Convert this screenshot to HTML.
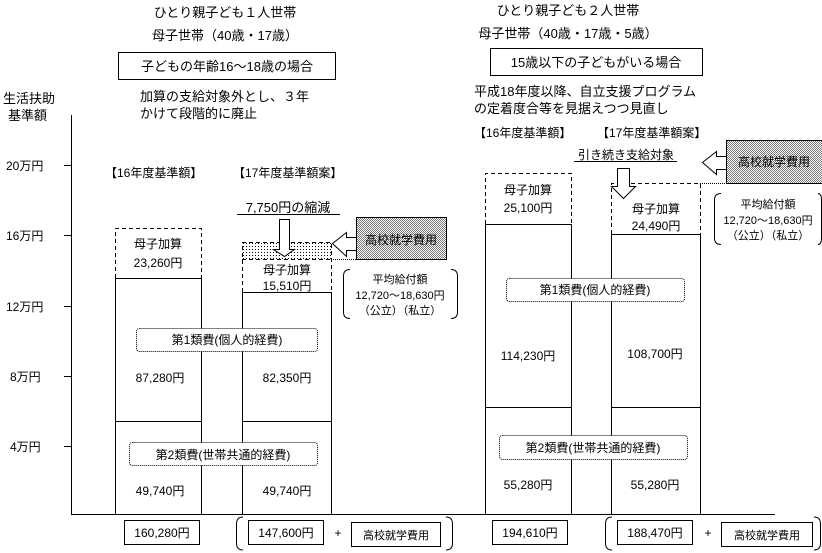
<!DOCTYPE html>
<html><head><meta charset="utf-8"><style>
html,body{margin:0;padding:0;background:#fff;}
svg{display:block;}
text{font-family:"Liberation Sans","Noto Sans CJK JP",sans-serif;fill:#000;}
</style></head><body>
<svg width="822" height="553" viewBox="0 0 822 553" xmlns="http://www.w3.org/2000/svg">
<defs>
<pattern id="dots" width="3" height="3" patternUnits="userSpaceOnUse"><rect width="3" height="3" fill="#fff"/><rect width="1" height="1" fill="#000"/></pattern>
<pattern id="gray" width="2" height="2" patternUnits="userSpaceOnUse"><rect width="2" height="2" fill="#fff"/><rect width="1" height="1" fill="#777"/><rect x="1" y="1" width="1" height="1" fill="#777"/></pattern>
</defs>
<g stroke="#000" stroke-width="1" fill="none">
<line x1="71.5" y1="115" x2="71.5" y2="514"/>
<line x1="71" y1="514.5" x2="775" y2="514.5"/>
<line x1="64" y1="165.5" x2="71" y2="165.5"/>
<line x1="64" y1="235.5" x2="71" y2="235.5"/>
<line x1="64" y1="306.5" x2="71" y2="306.5"/>
<line x1="64" y1="376.5" x2="71" y2="376.5"/>
<line x1="64" y1="446.5" x2="71" y2="446.5"/>
<rect x="115.5" y="278.5" width="86" height="236"/>
<line x1="115" y1="421.5" x2="201" y2="421.5"/>
<rect x="242.5" y="292.5" width="89" height="222"/>
<line x1="242" y1="421.5" x2="331" y2="421.5"/>
<rect x="485.5" y="224.5" width="86" height="290"/>
<line x1="485" y1="407.5" x2="571" y2="407.5"/>
<rect x="611.5" y="234.5" width="89" height="280"/>
<line x1="611" y1="407.5" x2="700" y2="407.5"/>
<g stroke-dasharray="4,3">
<polyline points="115.5,278 115.5,228.5 201.5,228.5 201.5,278"/>
<polyline points="242.5,292 242.5,242.5 331.5,242.5 331.5,292"/>
<line x1="242" y1="259.5" x2="331" y2="259.5"/>
<polyline points="485.5,224 485.5,173.5 571.5,173.5 571.5,224"/>
<polyline points="611.5,234 611.5,183.5 700.5,183.5 700.5,234"/>
</g>
</g>
<rect x="243" y="243" width="88" height="16" fill="url(#dots)"/>
<g stroke="#000" stroke-width="1" fill="none">
<line x1="331" y1="259.5" x2="357" y2="259.5" stroke-dasharray="1,1"/>
<line x1="700" y1="183.5" x2="726" y2="183.5" stroke-dasharray="1,1"/>
<g stroke-dasharray="1,1">
<rect x="136.5" y="328.5" width="181" height="23" rx="3" fill="#fff"/>
<rect x="129.5" y="442.5" width="188" height="23" rx="3" fill="#fff"/>
<rect x="506.5" y="278.5" width="178" height="23" rx="3" fill="#fff"/>
<rect x="499.5" y="435.5" width="188" height="24" rx="3" fill="#fff"/>
</g>
<rect x="356.5" y="217.5" width="90" height="42" fill="url(#gray)"/>
<rect x="726.5" y="140.5" width="96" height="43" fill="url(#gray)"/>
<polygon points="279.5,219.5 289.5,219.5 289.5,249.5 294.5,249.5 284.5,256.5 273.5,249.5 279.5,249.5" fill="#fff"/>
<polygon points="617.5,168.5 629.5,168.5 629.5,186.5 635.5,186.5 623.5,198.5 611.5,186.5 617.5,186.5" fill="#fff"/>
<polygon points="332.5,243.5 346.5,232.5 346.5,237.5 356.5,237.5 356.5,250.5 346.5,250.5 346.5,256.5" fill="#fff"/>
<polygon points="702.5,162.5 716.5,151.5 716.5,156.5 726.5,156.5 726.5,169.5 716.5,169.5 716.5,174.5" fill="#fff"/>
<rect x="118.5" y="52.5" width="217" height="27"/>
<rect x="490.5" y="48.5" width="212" height="27"/>
<path d="M350,269.5 Q343.5,269.5 343.5,276 L343.5,312 Q343.5,318.5 350,318.5 M451,269.5 Q457.5,269.5 457.5,276 L457.5,312 Q457.5,318.5 451,318.5"/>
<path d="M721,193.5 Q714.5,193.5 714.5,200 L714.5,238 Q714.5,244.5 721,244.5 M818,193.5 Q821.5,193.5 821.5,200 L821.5,238 Q821.5,244.5 818,244.5"/>
<rect x="124.5" y="520.5" width="75" height="24"/>
<rect x="248.5" y="520.5" width="75" height="24"/>
<rect x="351.5" y="522.5" width="89" height="24"/>
<rect x="492.5" y="520.5" width="75" height="24"/>
<rect x="617.5" y="520.5" width="75" height="24"/>
<rect x="721.5" y="522.5" width="91" height="24"/>
<path d="M243,517 Q236.5,517 236.5,524 L236.5,543 Q236.5,550 243,550"/>
<path d="M446,517 Q452.5,517 452.5,524 L452.5,543 Q452.5,550 446,550"/>
<path d="M612,517 Q605.5,517 605.5,524 L605.5,543 Q605.5,550 612,550"/>
<path d="M814,517 Q820.5,517 820.5,524 L820.5,543 Q820.5,550 814,550"/>
<line x1="237" y1="214.5" x2="340" y2="214.5"/>
<line x1="574" y1="161.5" x2="677" y2="161.5"/>
</g>
<g font-size="13">
<text x="225" y="17" text-anchor="middle">ひとり親子ども１人世帯</text>
<text x="225" y="40" text-anchor="middle">母子世帯（40歳・17歳）</text>
<text x="227" y="71" text-anchor="middle">子どもの年齢16～18歳の場合</text>
<text x="140" y="101">加算の支給対象外とし、３年</text>
<text x="140" y="118">かけて段階的に廃止</text>
<text x="3" y="103">生活扶助</text>
<text x="8" y="120">基準額</text>
<text x="568" y="15" text-anchor="middle">ひとり親子ども２人世帯</text>
<text x="568" y="38" text-anchor="middle">母子世帯（40歳・17歳・5歳）</text>
<text x="596" y="67" text-anchor="middle">15歳以下の子どもがいる場合</text>
<text x="474" y="96">平成18年度以降、自立支援プログラム</text>
<text x="474" y="113">の定着度合等を見据えつつ見直し</text>
<text x="288" y="212" text-anchor="middle">7,750円の縮減</text>
</g>
<g font-size="12">
<text x="6" y="170">20万円</text>
<text x="6" y="240">16万円</text>
<text x="6" y="311">12万円</text>
<text x="10" y="381">8万円</text>
<text x="10" y="451">4万円</text>
<text x="105" y="177">【16年度基準額】</text>
<text x="233" y="177">【17年度基準額案】</text>
<text x="474" y="137">【16年度基準額】</text>
<text x="597" y="137">【17年度基準額案】</text>
<text x="626" y="159" text-anchor="middle">引き続き支給対象</text>
<text x="401" y="244" text-anchor="middle">高校就学費用</text>
<text x="774" y="166" text-anchor="middle">高校就学費用</text>
<text x="158" y="248" text-anchor="middle">母子加算</text>
<text x="158" y="267" text-anchor="middle">23,260円</text>
<text x="287" y="274" text-anchor="middle">母子加算</text>
<text x="287" y="290" text-anchor="middle">15,510円</text>
<text x="528" y="194" text-anchor="middle">母子加算</text>
<text x="528" y="212" text-anchor="middle">25,100円</text>
<text x="656" y="213" text-anchor="middle">母子加算</text>
<text x="656" y="230" text-anchor="middle">24,490円</text>
<text x="227" y="344" text-anchor="middle">第1類費(個人的経費)</text>
<text x="223" y="459" text-anchor="middle">第2類費(世帯共通的経費)</text>
<text x="595" y="294" text-anchor="middle">第1類費(個人的経費)</text>
<text x="593" y="452" text-anchor="middle">第2類費(世帯共通的経費)</text>
<text x="160" y="382" text-anchor="middle">87,280円</text>
<text x="287" y="382" text-anchor="middle">82,350円</text>
<text x="160" y="495" text-anchor="middle">49,740円</text>
<text x="287" y="495" text-anchor="middle">49,740円</text>
<text x="528" y="360" text-anchor="middle">114,230円</text>
<text x="655" y="358" text-anchor="middle">108,700円</text>
<text x="528" y="489" text-anchor="middle">55,280円</text>
<text x="655" y="489" text-anchor="middle">55,280円</text>
<text x="162" y="537" text-anchor="middle">160,280円</text>
<text x="286" y="537" text-anchor="middle">147,600円</text>
<text x="338" y="537" text-anchor="middle">+</text>
<text x="530" y="537" text-anchor="middle">194,610円</text>
<text x="655" y="537" text-anchor="middle">188,470円</text>
<text x="708" y="537" text-anchor="middle">+</text>
</g>
<g font-size="11">
<text x="400" y="283" text-anchor="middle">平均給付額</text>
<text x="400" y="299" text-anchor="middle">12,720～18,630円</text>
<text x="400" y="314" text-anchor="middle">（公立）（私立）</text>
<text x="768" y="208" text-anchor="middle">平均給付額</text>
<text x="768" y="224" text-anchor="middle">12,720～18,630円</text>
<text x="768" y="239" text-anchor="middle">（公立）（私立）</text>
<text x="396" y="539" text-anchor="middle">高校就学費用</text>
<text x="767" y="539" text-anchor="middle">高校就学費用</text>
</g>
</svg>
</body></html>
